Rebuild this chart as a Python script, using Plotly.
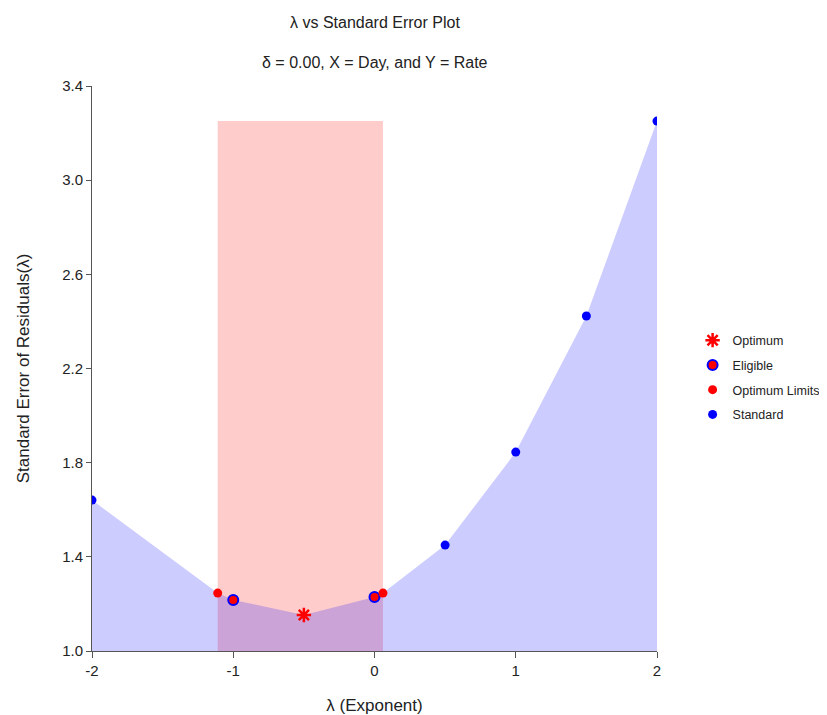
import plotly.graph_objects as go

# Data
standard_x = [-2.0, 0.5, 1.0, 1.5, 2.0]
standard_y = [1.641, 1.450, 1.845, 2.423, 3.251]
eligible_x = [-1.0, 0.0]
eligible_y = [1.217, 1.229]
optimum_x = [-0.5]
optimum_y = [1.153]
limits_x = [-1.11, 0.06]
limits_y = [1.246, 1.246]
y_base = 1.0

xticks = [-2, -1, 0, 1, 2]
yticks = [1.0, 1.4, 1.8, 2.2, 2.6, 3.0, 3.4]

# curve through all points (sorted by x)
pts = sorted(zip(standard_x + eligible_x + optimum_x + limits_x,
                 standard_y + eligible_y + optimum_y + limits_y))
curve_x = [p[0] for p in pts]
curve_y = [p[1] for p in pts]
y_top = max(curve_y)

fig = go.Figure()

# optimum-limits band
fig.add_trace(go.Scatter(
    x=[limits_x[0], limits_x[1], limits_x[1], limits_x[0], limits_x[0]],
    y=[y_base, y_base, y_top, y_top, y_base],
    fill="toself", fillcolor="rgba(255,0,0,0.2)", mode="none",
    hoverinfo="skip", showlegend=False))

# baseline and blue area
fig.add_trace(go.Scatter(x=[curve_x[0], curve_x[-1]], y=[y_base, y_base],
                         mode="lines", line=dict(width=0), hoverinfo="skip",
                         showlegend=False))
fig.add_trace(go.Scatter(x=curve_x, y=curve_y, mode="lines", line=dict(width=0),
                         fill="tonexty", fillcolor="rgba(0,0,255,0.2)",
                         hoverinfo="skip", showlegend=False))

fig.add_trace(go.Scatter(x=optimum_x, y=optimum_y, mode="markers", name="Optimum",
                         legendgroup="a",
                         marker=dict(symbol="asterisk-open", size=12, color="red",
                                     line=dict(color="red", width=2.5))))
fig.add_trace(go.Scatter(x=eligible_x, y=eligible_y, mode="markers", name="Eligible",
                         legendgroup="b",
                         marker=dict(symbol="circle", size=10, color="red",
                                     line=dict(color="blue", width=2))))
fig.add_trace(go.Scatter(x=limits_x, y=limits_y, mode="markers", name="Optimum Limits",
                         legendgroup="c",
                         marker=dict(symbol="circle", size=9, color="red")))
fig.add_trace(go.Scatter(x=standard_x, y=standard_y, mode="markers", name="Standard",
                         legendgroup="d",
                         marker=dict(symbol="circle", size=9, color="blue")))

font_family = "Liberation Sans, Arial, sans-serif"
fig.update_layout(
    width=827, height=715,
    margin=dict(l=84, r=178, t=78, b=72, autoexpand=False),
    plot_bgcolor="white", paper_bgcolor="white",
    font=dict(family=font_family, color="#222222", size=14),
    showlegend=True,
    legend=dict(x=1.063, y=0.484, xanchor="left", yanchor="middle",
                font=dict(size=12.5), tracegroupgap=5.5, bgcolor="rgba(0,0,0,0)"),
    xaxis=dict(range=[-2, 2], tickvals=xticks, ticktext=[str(t) for t in xticks],
               showgrid=False, zeroline=False, showline=True, linecolor="#555555",
               linewidth=1, ticks="outside", ticklen=6, tickcolor="#555555",
               tickfont=dict(size=15), automargin=False,
               title=dict(text="λ (Exponent)", font=dict(size=17), standoff=21)),
    yaxis=dict(range=[1.0, 3.4], tickvals=yticks, ticktext=[f"{t:.1f}" for t in yticks],
               showgrid=False, zeroline=False, showline=True, linecolor="#555555",
               linewidth=1, ticks="outside", ticklen=5, tickcolor="#555555",
               tickfont=dict(size=15), automargin=False,
               title=dict(text="Standard Error of Residuals(λ)", font=dict(size=17),
                          standoff=28)),
    annotations=[
        dict(text="λ vs Standard Error Plot", xref="paper", yref="paper",
             x=0.5, y=1.0, yanchor="middle", yshift=64, showarrow=False,
             font=dict(size=16)),
        dict(text="δ = 0.00, X = Day, and Y = Rate", xref="paper", yref="paper",
             x=0.5, y=1.0, yanchor="middle", yshift=24, showarrow=False,
             font=dict(size=16)),
    ],
)

fig.write_html("out.html")
